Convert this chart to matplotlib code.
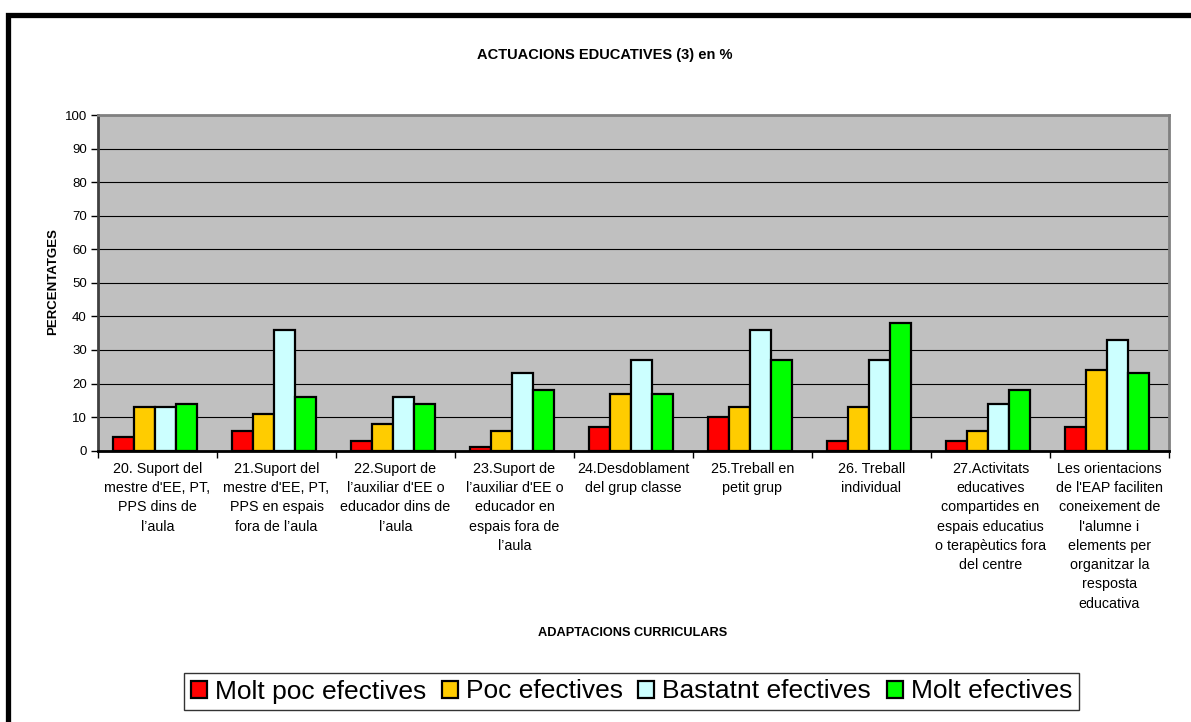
import matplotlib
matplotlib.use("Agg")
import matplotlib.pyplot as plt
from matplotlib.patches import Rectangle, Patch
import numpy as np

plt.rcParams['font.family'] = ['Liberation Sans', 'DejaVu Sans']

categories = [
    "20. Suport del\nmestre d'EE, PT,\nPPS dins de\nl\u2019aula",
    "21.Suport del\nmestre d'EE, PT,\nPPS en espais\nfora de l\u2019aula",
    "22.Suport de\nl\u2019auxiliar d'EE o\neducador dins de\nl\u2019aula",
    "23.Suport de\nl\u2019auxiliar d'EE o\neducador en\nespais fora de\nl\u2019aula",
    "24.Desdoblament\ndel grup classe",
    "25.Treball en\npetit grup",
    "26. Treball\nindividual",
    "27.Activitats\neducatives\ncompartides en\nespais educatius\no terap\u00e8utics fora\ndel centre",
    "Les orientacions\nde l'EAP faciliten\nconeixement de\nl'alumne i\nelements per\norganitzar la\nresposta\neducativa",
]

series_names = ["Molt poc efectives", "Poc efectives", "Bastatnt efectives", "Molt efectives"]
molt_poc = [4, 6, 3, 1, 7, 10, 3, 3, 7]
poc = [13, 11, 8, 6, 17, 13, 13, 6, 24]
bastant = [13, 36, 16, 23, 27, 36, 27, 14, 33]
molt = [14, 16, 14, 18, 17, 27, 38, 18, 23]
series_values = [molt_poc, poc, bastant, molt]
colors = ["#FF0000", "#FFCC00", "#CCFFFF", "#00FF00"]
y_ticks = list(range(0, 101, 10))

W, H = 1191, 722
fig = plt.figure(figsize=(W / 100, H / 100), dpi=100)

# thick outer frame (runs off the right and bottom edges)
fig.patches.append(Rectangle((7.5 / W, -0.2), 1.3, 1.2 - 14.5 / H,
                             transform=fig.transFigure, fill=False,
                             edgecolor="black", linewidth=3.8))

ax = fig.add_axes([98 / W, 1 - 450.7 / H, (1169 - 98) / W, (450.7 - 115) / H])
ax.set_facecolor("#C0C0C0")

n = len(categories)
x = np.arange(n)
bw = 0.178
for j, (vals, col, name) in enumerate(zip(series_values, colors, series_names)):
    ax.bar(x + (j - 1.5) * bw - 0.02, vals, width=bw, color=col,
           edgecolor="black", linewidth=1.6, label=name, zorder=3)

ax.set_xlim(-0.5, n - 0.5)
ax.set_ylim(0, 100)
ax.set_yticks(y_ticks)
ax.set_yticklabels([str(v) for v in y_ticks], fontsize=9.5)
ax.yaxis.grid(True, color="black", linewidth=0.8, zorder=1)
ax.set_axisbelow(True)

# group boundaries as major ticks, category names as minor tick labels
ax.set_xticks(np.arange(n + 1) - 0.5)
ax.set_xticklabels([])
ax.set_xticks(x, minor=True)
ax.set_xticklabels(categories, minor=True, fontsize=10.3, linespacing=1.48,
                   ha="center", va="top")
ax.tick_params(axis="x", which="minor", length=0, pad=8)
ax.tick_params(axis="x", which="major", length=5, width=1, color="black", direction="out")
ax.tick_params(axis="y", length=5, width=1, color="black", direction="out", pad=3)

for s in ["top", "right"]:
    ax.spines[s].set_color("#808080")
    ax.spines[s].set_linewidth(2)
ax.spines["left"].set_color("#404040")
ax.spines["left"].set_linewidth(2)
ax.spines["bottom"].set_color("black")
ax.spines["bottom"].set_linewidth(2)

fig.text(605 / W, 1 - 55 / H, "ACTUACIONS EDUCATIVES (3) en %", ha="center", va="center",
         fontsize=10.5, fontweight="bold")
fig.text(53 / W, 1 - 282 / H, "PERCENTATGES", ha="center", va="center", rotation=90,
         fontsize=9.5, fontweight="bold")
fig.text(633 / W, 1 - 633 / H, "ADAPTACIONS CURRICULARS", ha="center", va="center",
         fontsize=9.2, fontweight="bold")

handles = [Patch(facecolor=c, edgecolor="black", linewidth=1.6) for c in colors]
leg = fig.legend(handles, series_names, loc="center", bbox_to_anchor=(631.5 / W, 1 - 691.5 / H),
                 ncol=4, fontsize=19, frameon=True, fancybox=False, edgecolor="black",
                 handlelength=0.6, handleheight=0.6, handletextpad=0.3, columnspacing=0.6,
                 borderpad=0.25, borderaxespad=0)
leg.get_frame().set_linewidth(1)

fig.savefig("out.png", dpi=100)
